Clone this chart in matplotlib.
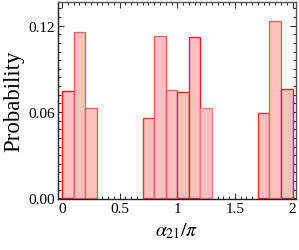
import matplotlib
matplotlib.use("Agg")
import matplotlib.pyplot as plt
from matplotlib.ticker import MultipleLocator, FixedLocator

bin_left = [0.0, 0.1, 0.2, 0.7, 0.8, 0.9, 1.0, 1.1, 1.2, 1.7, 1.8, 1.9]
probability = [0.0744, 0.1158, 0.0626, 0.0556, 0.1126, 0.0755, 0.0737, 0.1119, 0.0626, 0.0591, 0.1231, 0.0760]
bin_width = 0.1
x_ticks = [0, 0.5, 1, 1.5, 2]
x_tick_labels = ["0", "0.5", "1", "1.5", "2"]
y_ticks = [0.0, 0.06, 0.12]
y_tick_labels = ["0.00", "0.06", "0.12"]

plt.rcParams['font.family'] = ['Liberation Serif', 'DejaVu Serif']
plt.rcParams['mathtext.fontset'] = 'stix'

fig = plt.figure(figsize=(2.99, 2.51), dpi=100)
ax = fig.add_axes([58/299, 1-200/251, (296-58)/299, (200-3)/251])

edge_colors = ['#FF1010', '#FF6060', '#FF6060', '#FF3030', '#FF6060', '#FF6060',
               '#FF2020', '#FF2020', '#FF8080', '#FF3030', '#FF6060', '#FF1010']
ax.bar(bin_left, probability, width=bin_width, align='edge',
       color='#FFC0C0', edgecolor=edge_colors, linewidth=1.0, zorder=2)

ax.set_xlim(-0.035, 2.03)
ax.set_ylim(-0.0005, 0.1365)
ax.xaxis.set_major_locator(FixedLocator(x_ticks))
ax.set_xticklabels(x_tick_labels)
ax.yaxis.set_major_locator(FixedLocator(y_ticks))
ax.set_yticklabels(y_tick_labels)
ax.xaxis.set_minor_locator(MultipleLocator(0.05))
ax.yaxis.set_minor_locator(MultipleLocator(0.006))
ax.tick_params(which='both', direction='in', top=True, right=True,
               color='#333333', labelsize=11, pad=2)
ax.tick_params(which='major', length=4, width=0.8)
ax.tick_params(which='minor', length=2, width=0.8)
ax.tick_params(axis='x', which='both', labeltop=False)
ax.tick_params(axis='y', which='both', labelright=False)
for s in ax.spines.values():
    s.set_color('#555555')
    s.set_linewidth(1.0)
ax.spines['left'].set_color('#222222')
ax.spines['bottom'].set_color('#222222')

ax.set_ylabel('Probability', fontsize=16.5, labelpad=3)
ax.set_xlabel(r'$\alpha_{21}/\pi$', fontsize=14, labelpad=4)

fig.savefig('out.png', dpi=100)
